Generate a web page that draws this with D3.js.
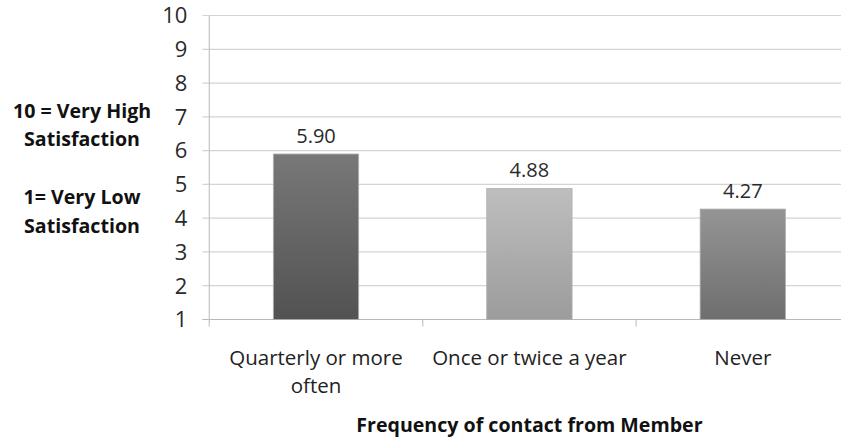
<!DOCTYPE html>
<html>
<head>
<meta charset="utf-8">
<script src="https://cdn.jsdelivr.net/npm/d3@7"></script>
<style>
  html, body { margin: 0; padding: 0; background: #fff; }
  svg { display: block; font-family: 'Open Sans', sans-serif; }
</style>
</head>
<body>
<svg id="chart"></svg>
<script>
const categories = [['Quarterly or more', 'often'], ['Once or twice a year'], ['Never']]
const values = [5.9, 4.88, 4.27]
const yTicks = [1, 2, 3, 4, 5, 6, 7, 8, 9, 10]
const barColors = [['#787878', '#525252'], ['#bebebe', '#9c9c9c'], ['#959595', '#6e6e6e']]

const width = 841
const height = 438
const margin = { top: 15.5, right: -8.5, bottom: 118.5, left: 209.3 }
const _w = width - margin.left - margin.right
const _h = height - margin.top - margin.bottom

const svg = d3.select('#chart').attr('width', width).attr('height', height)

const defs = svg.append('defs')
barColors.forEach((c, i) => {
  const g = defs.append('linearGradient').attr('id', 'grad' + i)
    .attr('x1', 0).attr('y1', 0).attr('x2', 0).attr('y2', 1)
  g.append('stop').attr('offset', '0%').attr('stop-color', c[0])
  g.append('stop').attr('offset', '100%').attr('stop-color', c[1])
})

const x = d3.scaleBand().domain(d3.range(categories.length)).range([0, _w])
const y = d3.scaleLinear().domain([1, 10]).range([_h, 0])

const g = svg.append('g').attr('transform', `translate(${margin.left},${margin.top})`)

// gridlines
g.append('g')
  .selectAll('line')
  .data(yTicks)
  .join('line')
  .attr('x1', -7)
  .attr('x2', _w)
  .attr('y1', (d) => y(d))
  .attr('y2', (d) => y(d))
  .attr('stroke', (d) => (d === 1 ? '#b8b8b8' : '#d4d4d4'))
  .attr('stroke-width', 1.2)

// y axis line
g.append('line')
  .attr('x1', 0).attr('x2', 0)
  .attr('y1', 0).attr('y2', _h + 7)
  .attr('stroke', '#c4c4c4')
  .attr('stroke-width', 1.2)

// category ticks
g.append('g')
  .selectAll('line')
  .data(d3.range(1, categories.length))
  .join('line')
  .attr('x1', (d) => x(d))
  .attr('x2', (d) => x(d))
  .attr('y1', _h)
  .attr('y2', _h + 7)
  .attr('stroke', '#c4c4c4')
  .attr('stroke-width', 1.2)

// y tick labels
g.append('g')
  .selectAll('text')
  .data(yTicks)
  .join('text')
  .attr('x', -22)
  .attr('y', (d) => y(d))
  .attr('dy', 7.8)
  .attr('text-anchor', 'end')
  .attr('font-size', 22)
  .attr('fill', '#2a2a2a')
  .text((d) => d)

const bw = x.bandwidth() * 0.4

// bars
g.append('g')
  .selectAll('rect')
  .data(values)
  .join('rect')
  .attr('x', (d, i) => x(i) + (x.bandwidth() - bw) / 2)
  .attr('y', (d) => y(d))
  .attr('width', bw)
  .attr('height', (d) => y(1) - y(d))
  .attr('fill', (d, i) => `url(#grad${i})`)
  .attr('stroke', '#b0b0b0')
  .attr('stroke-width', 0.8)

// value labels
g.append('g')
  .selectAll('text')
  .data(values)
  .join('text')
  .attr('x', (d, i) => x(i) + x.bandwidth() / 2)
  .attr('y', (d) => y(d) - 11)
  .attr('text-anchor', 'middle')
  .attr('font-size', 20)
  .attr('fill', '#2a2a2a')
  .text((d) => d.toFixed(2))

// category labels
g.append('g')
  .selectAll('text')
  .data(categories)
  .join('text')
  .attr('x', (d, i) => x(i) + x.bandwidth() / 2)
  .attr('y', _h + 45)
  .attr('text-anchor', 'middle')
  .attr('font-size', 20.5)
  .attr('fill', '#222')
  .selectAll('tspan')
  .data((d) => d)
  .join('tspan')
  .attr('x', function () { return d3.select(this.parentNode).attr('x') })
  .attr('dy', (d, i) => (i === 0 ? 0 : 28.4))
  .text((d) => d)

// x axis title
svg.append('text')
  .attr('x', margin.left + (x.range()[1]) / 2)
  .attr('y', 431.5)
  .attr('text-anchor', 'middle')
  .attr('font-size', 19.6)
  .attr('font-weight', 'bold')
  .attr('fill', '#111')
  .text('Frequency of contact from Member')

// y axis note
const note = ['10 = Very High', 'Satisfaction', '1= Very Low', 'Satisfaction']
const noteY = [117.5, 146, 204, 232.5]
svg.append('g')
  .selectAll('text')
  .data(note)
  .join('text')
  .attr('x', 82)
  .attr('y', (d, i) => noteY[i])
  .attr('text-anchor', 'middle')
  .attr('font-size', 19.6)
  .attr('font-weight', 'bold')
  .attr('fill', '#111')
  .text((d) => d)
</script>
</body>
</html>
